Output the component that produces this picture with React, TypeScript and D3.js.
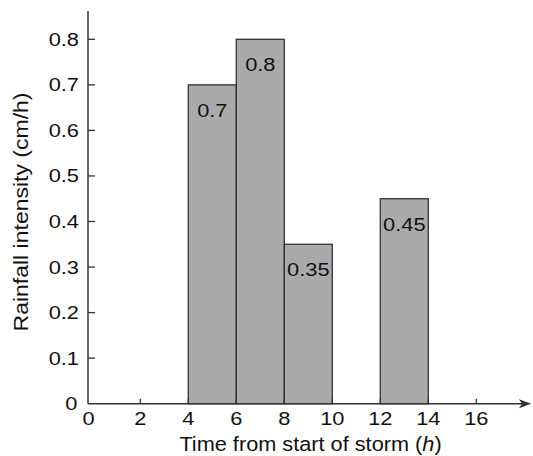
import React, { useEffect, useRef } from "react";
import * as d3 from "d3";

const starts = [4, 6, 8, 12];
const ends = [6, 8, 10, 14];
const values = [0.7, 0.8, 0.35, 0.45];
const labels = ["0.7", "0.8", "0.35", "0.45"];
const xTicks = [0, 2, 4, 6, 8, 10, 12, 14, 16];
const yTicks = [0, 0.1, 0.2, 0.3, 0.4, 0.5, 0.6, 0.7, 0.8];

export default function App() {
  const ref = useRef<SVGSVGElement>(null);
  useEffect(() => {
    const svg = d3.select(ref.current);
    svg.selectAll("*").remove();
    const x = d3.scaleLinear().domain([0, 16]).range([92.3, 476.3]);
    const y = d3.scaleLinear().domain([0, 0.8]).range([403.7, 39.3]);
    const axisX = 88;
    const font = "'Liberation Sans', Arial, sans-serif";
    const ink = "#333";
    const txt = "#111";

    const label = (
      px: number,
      py: number,
      s: string,
      anchor: string,
      size = 18.5,
      sx = 1.18
    ) =>
      svg
        .append("text")
        .attr("transform", `translate(${px},${py}) scale(${sx},1)`)
        .attr("text-anchor", anchor)
        .attr("font-family", font)
        .attr("font-size", size)
        .attr("fill", txt)
        .text(s);

    // bars
    values.forEach((v, i) => {
      svg
        .append("rect")
        .attr("x", x(starts[i]))
        .attr("y", y(v))
        .attr("width", x(ends[i]) - x(starts[i]))
        .attr("height", y(0) - y(v))
        .attr("fill", "#aaaaaa")
        .attr("stroke", ink)
        .attr("stroke-width", 1.3);
      label((x(starts[i]) + x(ends[i])) / 2, y(v) + 32, labels[i], "middle");
    });

    // y axis
    svg.append("line").attr("x1", axisX).attr("x2", axisX).attr("y1", 11).attr("y2", y(0))
      .attr("stroke", ink).attr("stroke-width", 1.5);
    yTicks.forEach((t) => {
      if (t > 0) {
        svg.append("line").attr("x1", axisX).attr("x2", axisX + 7).attr("y1", y(t)).attr("y2", y(t))
          .attr("stroke", ink).attr("stroke-width", 1.3);
        label(79, y(t) + 6.5, d3.format(".1f")(t), "end");
      } else {
        label(77.5, 410, "0", "end");
      }
    });

    // x axis
    svg.append("line").attr("x1", axisX).attr("x2", 522).attr("y1", y(0)).attr("y2", y(0))
      .attr("stroke", ink).attr("stroke-width", 1.5);
    svg.append("path")
      .attr("d", `M531,${y(0)} L519,${y(0) - 4.5} L522,${y(0)} L519,${y(0) + 4.5} Z`)
      .attr("fill", ink);
    xTicks.forEach((t) => {
      if (t > 0) {
        svg.append("line").attr("x1", x(t)).attr("x2", x(t)).attr("y1", y(0)).attr("y2", y(0) - 5)
          .attr("stroke", ink).attr("stroke-width", 1.3);
      }
      label(t === 0 ? 88.5 : x(t), 425, String(t), "middle");
    });

    // titles
    const xt = svg.append("text")
      .attr("transform", `translate(310.5,451) scale(1.06,1)`)
      .attr("text-anchor", "middle")
      .attr("font-family", font)
      .attr("font-size", 20.5)
      .attr("fill", txt);
    xt.append("tspan").text("Time from start of storm (");
    xt.append("tspan").attr("font-style", "italic").text("h");
    xt.append("tspan").text(")");

    svg.append("text")
      .attr("transform", `translate(27.5,212) rotate(-90) scale(1.15,1)`)
      .attr("text-anchor", "middle")
      .attr("font-family", font)
      .attr("font-size", 20)
      .attr("fill", txt)
      .text("Rainfall intensity (cm/h)");
  }, []);
  return (
    <svg ref={ref} width={533} height={456} style={{ position: "absolute", left: 0, top: 0, background: "#fff" }} />
  );
}
